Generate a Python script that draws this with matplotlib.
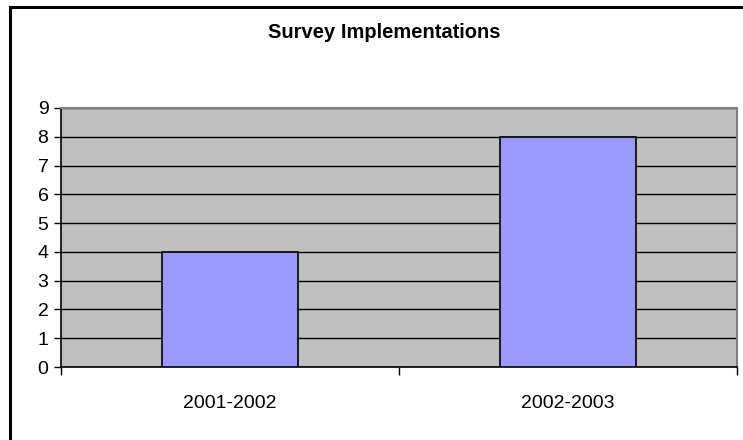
import matplotlib.pyplot as plt
from matplotlib.patches import Rectangle

plt.rcParams['font.family'] = ['Liberation Sans', 'DejaVu Sans']

# data
categories = ['2001-2002', '2002-2003']
values = [4, 8]

W, H = 743, 440
fig = plt.figure(figsize=(W / 100, H / 100), dpi=100, facecolor='white')

# chart-area border (right and bottom edges fall outside the image)
fig.patches.append(Rectangle((10 / W, -0.1), 1.2, (H - 7) / H + 0.1, transform=fig.transFigure,
                             fill=False, edgecolor='black', linewidth=2.2))

ax = fig.add_axes([61 / W, (H - 367) / H, (737 - 61) / W, (367 - 108) / H])
ax.set_facecolor('#C0C0C0')

x = list(range(len(categories)))
ax.bar(x, values, width=0.4, color='#9999FF', edgecolor='black', linewidth=1.2, zorder=3)

ax.set_xlim(-0.5, len(categories) - 0.5)
ax.set_ylim(0, 9)
ax.set_yticks(range(10))
ax.yaxis.grid(True, color='black', linewidth=1.0, zorder=1)
ax.set_axisbelow(True)

ax.set_xticks(x)
ax.set_xticklabels(categories, fontsize=14)
ax.tick_params(axis='x', length=0, pad=20)
ax.set_xticks([-0.5, 0.5, 1.5], minor=True)
ax.tick_params(axis='x', which='minor', length=6, width=1, color='black', direction='out')
ax.tick_params(axis='y', labelsize=14, length=5, width=1, direction='out', pad=4)

for s in ['top', 'right']:
    ax.spines[s].set_color('#808080')
    ax.spines[s].set_linewidth(1.5)
for s in ['left', 'bottom']:
    ax.spines[s].set_color('black')
    ax.spines[s].set_linewidth(1.2)

fig.text(384 / W, 1 - 32 / H, 'Survey Implementations', ha='center', va='center',
         fontsize=14.5, fontweight='bold')

fig.savefig('out.png', dpi=100, facecolor='white')
